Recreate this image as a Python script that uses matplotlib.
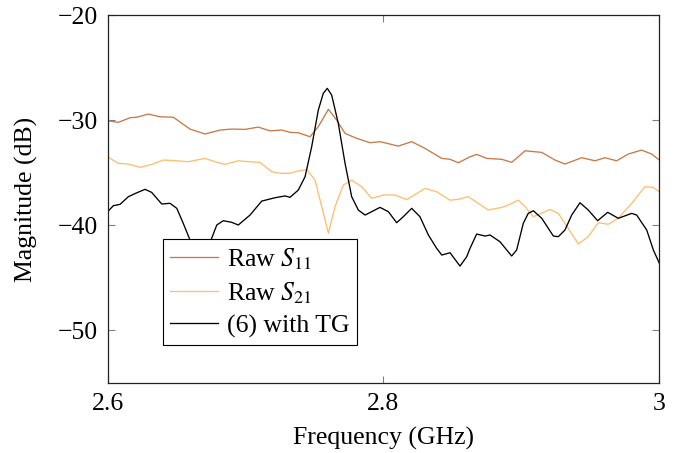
import matplotlib
matplotlib.use("Agg")
import matplotlib.pyplot as plt
import numpy as np

plt.rcParams['font.family'] = ['Liberation Serif', 'DejaVu Serif']
plt.rcParams['mathtext.fontset'] = 'stix'
plt.rcParams['axes.unicode_minus'] = True

# raw S11 (GHz, dB)
f_s11 = [2.6001, 2.6078, 2.6163, 2.6212, 2.6296, 2.6381, 2.6477, 2.6598, 2.6707,
         2.6816, 2.6900, 2.6997, 2.7093, 2.7178, 2.7263, 2.7323, 2.7383, 2.7468,
         2.7528, 2.7601, 2.7661, 2.7722, 2.7806, 2.7903, 2.7975, 2.8108, 2.8205,
         2.8302, 2.8423, 2.8483, 2.8543, 2.8628, 2.8676, 2.8749, 2.8858, 2.8930,
         2.9027, 2.9148, 2.9244, 2.9316, 2.9438, 2.9534, 2.9606, 2.9691, 2.9775,
         2.9872, 2.9945, 3.0000]
s11 = [-30.04, -30.19, -29.75, -29.70, -29.40, -29.66, -29.70, -30.83, -31.30,
       -30.92, -30.83, -30.86, -30.64, -31.00, -30.92, -31.14, -31.18, -31.56,
       -30.60, -28.95, -29.97, -31.24, -31.71, -32.13, -32.03, -32.45, -32.03,
       -32.67, -33.62, -33.71, -34.04, -33.47, -33.24, -33.62, -33.71, -34.00,
       -32.90, -33.05, -33.78, -34.16, -33.56, -33.85, -33.56, -33.85, -33.21,
       -32.83, -33.21, -33.78]

# raw S21
f_s21 = [2.6001, 2.6078, 2.6151, 2.6236, 2.6320, 2.6404, 2.6502, 2.6586, 2.6707,
         2.6779, 2.6852, 2.6948, 2.7021, 2.7105, 2.7190, 2.7263, 2.7323, 2.7359,
         2.7444, 2.7504, 2.7553, 2.7601, 2.7649, 2.7709, 2.7770, 2.7843, 2.7915,
         2.7999, 2.8084, 2.8169, 2.8302, 2.8386, 2.8483, 2.8543, 2.8615, 2.8760,
         2.8858, 2.8905, 2.8978, 2.9027, 2.9087, 2.9208, 2.9268, 2.9340, 2.9413,
         2.9485, 2.9558, 2.9630, 2.9703, 2.9800, 2.9896, 2.9957, 3.0000]
s21 = [-33.47, -34.10, -34.16, -34.48, -34.19, -33.78, -33.85, -33.94, -33.62,
       -33.94, -34.19, -33.85, -33.94, -34.00, -34.90, -35.05, -35.05, -34.90,
       -34.67, -35.69, -38.23, -40.76, -38.23, -36.16, -35.69, -36.32, -37.43,
       -37.11, -37.11, -37.55, -36.48, -36.80, -37.60, -37.52, -37.27, -38.54,
       -38.29, -38.07, -37.60, -38.23, -39.18, -38.48, -38.86, -40.29, -41.78,
       -41.08, -39.75, -39.90, -39.33, -37.90, -36.32, -36.38, -36.80]

# de-embedded result, eq. (6) with time gating
f_tg = [2.6001, 2.6042, 2.6091, 2.6151, 2.6212, 2.6272, 2.6320, 2.6393, 2.6453,
        2.6502, 2.6549, 2.6598, 2.6640, 2.6675, 2.6712, 2.6750, 2.6792, 2.6839,
        2.6900, 2.6948, 2.7033, 2.7118, 2.7214, 2.7287, 2.7323, 2.7383, 2.7432,
        2.7480, 2.7528, 2.7564, 2.7593, 2.7625, 2.7673, 2.7722, 2.7770, 2.7818,
        2.7867, 2.7915, 2.7975, 2.8036, 2.8096, 2.8144, 2.8205, 2.8265, 2.8326,
        2.8386, 2.8423, 2.8483, 2.8555, 2.8604, 2.8628, 2.8676, 2.8737, 2.8773,
        2.8845, 2.8894, 2.8930, 2.8966, 2.9014, 2.9050, 2.9087, 2.9148, 2.9232,
        2.9268, 2.9316, 2.9365, 2.9425, 2.9485, 2.9553, 2.9626, 2.9703, 2.9800,
        2.9836, 2.9909, 2.9957, 3.0000]
tg = [-38.70, -38.13, -38.00, -37.27, -36.90, -36.57, -36.86, -37.97, -37.90,
      -38.38, -39.81, -41.40, -43.20, -43.90, -43.20, -41.40, -39.97, -39.56,
      -39.71, -39.97, -39.02, -37.69, -37.37, -37.20, -37.33, -36.64, -35.37,
      -32.51, -29.02, -27.43, -26.95, -27.59, -30.29, -34.10, -37.27, -38.54,
      -39.02, -38.70, -38.29, -38.70, -39.75, -39.18, -38.38, -39.18, -40.92,
      -42.19, -42.83, -42.61, -43.88, -42.99, -42.19, -40.83, -41.02, -40.92,
      -41.56, -42.35, -42.92, -42.35, -39.81, -38.86, -38.61, -39.33, -41.02,
      -41.08, -40.45, -39.02, -37.85, -38.54, -39.56, -38.76, -39.33, -38.86,
      -39.02, -40.45, -42.35, -43.60]

fig = plt.figure(figsize=(6.78, 4.53), dpi=100)
ax = fig.add_axes([0.1586, 0.155, 0.8138, 0.811])

ax.plot(f_s11, s11, color='#c87a48', lw=0.95, label='Raw $S_{11}$')
ax.plot(f_s21, s21, color='#ffbe6e', lw=0.95, label='Raw $S_{21}$')
ax.plot(f_tg, tg, color='black', lw=0.95, label='(6) with TG')

ax.set_xlim(2.6, 3.0)
ax.set_ylim(-55, -20)
ax.set_xticks([2.6, 2.8, 3.0])
ax.set_xticklabels(['2.6', '2.8', '3'])
ax.set_yticks([-50, -40, -30, -20])
ax.tick_params(direction='in', length=5, width=0.8, color='#808080',
               top=True, right=True, labelsize=18.5, pad=7)
for sp in ax.spines.values():
    sp.set_linewidth(0.9)
    sp.set_color('#222222')

ax.set_xlabel('Frequency (GHz)', fontsize=18.5, labelpad=9)
ax.set_ylabel('Magnitude (dB)', fontsize=18.5, labelpad=14)

leg = ax.legend(loc='lower left', bbox_to_anchor=(0.101, 0.103), fontsize=18.5,
                frameon=True, fancybox=False, framealpha=1.0,
                handlelength=1.85, handletextpad=0.35, borderpad=0.28,
                labelspacing=0.33, borderaxespad=0)
leg.get_frame().set_edgecolor('black')
leg.get_frame().set_linewidth(0.8)

fig.savefig('out.png', dpi=100)
